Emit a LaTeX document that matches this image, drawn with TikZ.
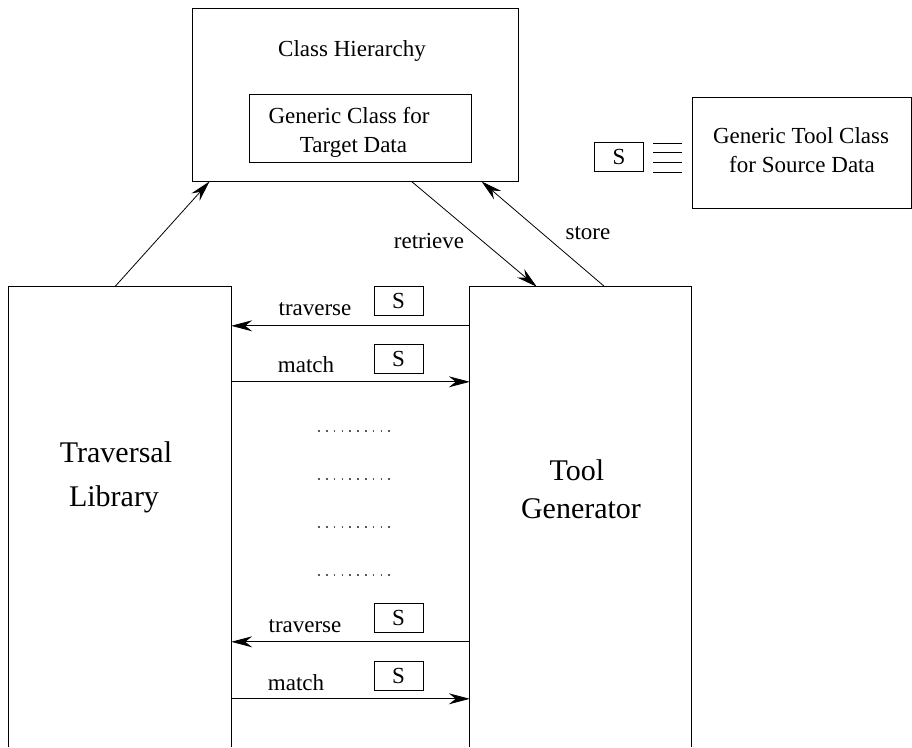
\documentclass[tikz,border=0pt]{standalone}
\usepackage{fontspec}
\setmainfont{Liberation Serif}
\usetikzlibrary{arrows.meta,calc}
\begin{document}
\begin{tikzpicture}[x=1pt,y=-1pt,
  box/.style={draw, line width=0.9pt, rectangle, inner sep=0pt},
  frame/.style={rectangle, inner sep=0pt},
  lbl/.style={font=\fontsize{23}{29}\selectfont, inner sep=0pt, anchor=base},
  biglbl/.style={font=\fontsize{30}{39}\selectfont, inner sep=0pt, anchor=base},
  arr/.style={-{Stealth[length=21pt,width=11pt,inset=7pt]}, line width=0.8pt},
  sbox/.style={box, minimum width=49pt, minimum height=29pt, font=\fontsize{23}{29}\selectfont},
  side/.style={line width=0.9pt}]

\useasboundingbox (0,0) rectangle (912,747);

% class hierarchy with the generic target class inside
\node[box, minimum width=326pt, minimum height=173pt] (ch) at (355,94.5) {};
\node[lbl] (chtitle) at (352,56) {Class Hierarchy};
\node[box, minimum width=222pt, minimum height=68pt] (gc) at (360,128) {};
\node[lbl] (gc1) at (349,123) {Generic Class for};
\node[lbl] (gc2) at (353.5,152) {Target Data};

% generic tool class for the source data
\node[box, minimum width=219pt, minimum height=111pt] (gt) at (801.5,152.5) {};
\node[lbl] (gt1) at (801,143) {Generic Tool Class};
\node[lbl] (gt2) at (802,172) {for Source Data};
\node[sbox] (s0) at (619,157) {S};
\foreach \yy in {143,152.7,162.3,172} \draw[line width=0.8pt] (653,\yy) -- (682,\yy);

% the two tall, open-ended components
\node[frame, minimum width=222pt, minimum height=460pt] (tl) at (120,517) {};
\draw[side] (tl.south west) -- (tl.north west) -- (tl.north east) -- (tl.south east);
\node[biglbl] (tl1) at (116,462) {Traversal};
\node[biglbl] (tl2) at (114,506) {Library};

\node[frame, minimum width=221pt, minimum height=460pt] (tg) at (580.5,517) {};
\draw[side] (tg.south west) -- (tg.north west) -- (tg.north east) -- (tg.south east);
\node[biglbl] (tg1) at (577,480) {Tool};
\node[biglbl] (tg2) at (581,518) {Generator};

% links to the class hierarchy
\draw[arr] ([xshift=106pt]tl.north west) -- ([xshift=18pt]ch.south west);
\draw[arr] ([xshift=220pt]ch.south west) -- ([xshift=67pt]tg.north west);
\draw[arr] ([xshift=135pt]tg.north west) -- ([xshift=290pt]ch.south west);
\node[lbl] (retr) at (429,248) {retrieve};
\node[lbl] (stor) at (588,239) {store};

% traverse / match exchanges
\draw[arr] ([yshift=-39pt]tg.north west) -- ([yshift=-39pt]tl.north east);
\node[lbl] (tr1) at (315,315) {traverse};
\node[sbox] (s1) at (398.5,301) {S};

\draw[arr] ([yshift=-95pt]tl.north east) -- ([yshift=-95pt]tg.north west);
\node[lbl] (ma1) at (306,372) {match};
\node[sbox] (s2) at (398.5,358.5) {S};

\draw[arr] ([yshift=-355pt]tg.north west) -- ([yshift=-355pt]tl.north east);
\node[lbl] (tr2) at (305,632) {traverse};
\node[sbox] (s3) at (398.5,617.5) {S};

\draw[arr] ([yshift=-412pt]tl.north east) -- ([yshift=-412pt]tg.north west);
\node[lbl] (ma2) at (296,690) {match};
\node[sbox] (s4) at (398.5,675.5) {S};

% elided exchanges
\foreach \yy in {431,479,527,575}
  \foreach \i in {0,...,9}
    \fill[gray!70!black] ({319+7.8*\i-0.8},{\yy-0.8}) rectangle ++(1.6,1.6);
\end{tikzpicture}
\end{document}
